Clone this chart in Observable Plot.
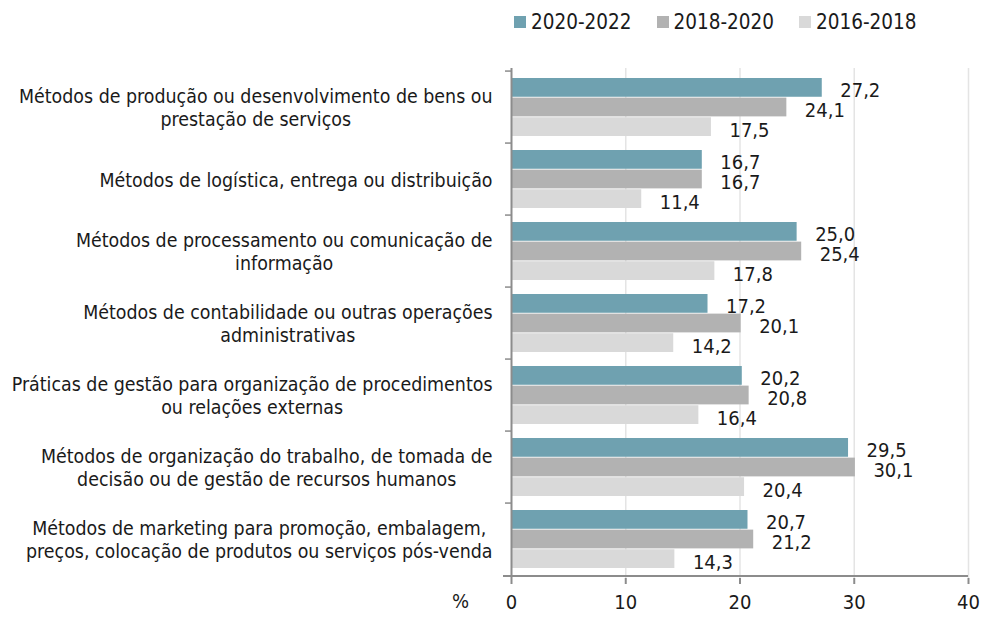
<!DOCTYPE html>
<html><head><meta charset="utf-8">
<script src="https://cdn.jsdelivr.net/npm/d3@7"></script>
<script src="https://cdn.jsdelivr.net/npm/@observablehq/plot@0.6"></script>
<style>
body{margin:0;background:#fff;font-family:"DejaVu Sans Condensed","DejaVu Sans",sans-serif;font-stretch:condensed;color:#1a1a1a}
#legend{height:44px;display:flex;align-items:center;padding-left:514px;gap:25px;font-size:20.5px}
.item{display:flex;align-items:center;gap:5px}
.sw{width:12px;height:12px;display:inline-block}
</style></head><body>
<div id="legend"></div><div id="chart"></div>
<script>
const categories = [
  "Métodos de produção ou desenvolvimento de bens ou\nprestação de serviços",
  "Métodos de logística, entrega ou distribuição",
  "Métodos de processamento ou comunicação de\ninformação",
  "Métodos de contabilidade ou outras operações\nadministrativas",
  "Práticas de gestão para organização de procedimentos\nou relações externas",
  "Métodos de organização do trabalho, de tomada de\ndecisão ou de gestão de recursos humanos",
  "Métodos de marketing para promoção, embalagem,\npreços, colocação de produtos ou serviços pós-venda"
];
const series = ["2020-2022", "2018-2020", "2016-2018"];
const v2020_2022 = [27.2, 16.7, 25.0, 17.2, 20.2, 29.5, 20.7];
const v2018_2020 = [24.1, 16.7, 25.4, 20.1, 20.8, 30.1, 21.2];
const v2016_2018 = [17.5, 11.4, 17.8, 14.2, 16.4, 20.4, 14.3];
const colors = ["#6fa1b0", "#b2b2b2", "#d9d9d9"];
const xTicks = [0, 10, 20, 30, 40];
const xLabel = "%";

const values = [v2020_2022, v2018_2020, v2016_2018];
const rows = series.flatMap((s, k) => categories.map((c, i) => ({cat: c, series: s, k, value: values[k][i]})));
const fmt = v => v.toFixed(1).replace(".", ",");

// legend
const legend = document.getElementById("legend");
series.forEach((s, k) => {
  const it = document.createElement("div");
  it.className = "item";
  const sw = document.createElement("span");
  sw.className = "sw"; sw.style.background = colors[k];
  const tx = document.createElement("span");
  tx.textContent = s;
  it.appendChild(sw); it.appendChild(tx);
  legend.appendChild(it);
});

const W = 984, H = 573, mt = 24, mb = 39, ml = 511, mr = 16;
const step = (H - mt - mb) / categories.length;
const pad = 7;
const barH = (step - 2 * pad) / 3;
const axisColor = "#8c8c8c";
const textColor = "#1a1a1a";
const font = "'DejaVu Sans Condensed','DejaVu Sans',sans-serif";

const chart = Plot.plot({
  width: W, height: H,
  marginTop: mt, marginBottom: mb, marginLeft: ml, marginRight: mr,
  style: {fontFamily: font, fontSize: "20px", color: textColor, background: "#fff", fontStretch: "condensed"},
  x: {domain: [0, 40], axis: null},
  y: {domain: categories, padding: 0, axis: null},
  marks: [
    Plot.ruleX(xTicks.slice(1), {stroke: "#e4e4e4", strokeWidth: 1.5}),
    ...series.map((s, k) => Plot.barX(rows.filter(d => d.k === k), {
      x: "value", y: "cat", fill: colors[k],
      insetTop: pad + k * barH, insetBottom: pad + (2 - k) * barH
    })),
    ...series.map((s, k) => Plot.text(rows.filter(d => d.k === k), {
      x: "value", y: "cat", text: d => fmt(d.value),
      textAnchor: "start", dx: 18, dy: (k - 1) * barH + 3,
      fontSize: 20, fill: textColor
    })),
    Plot.ruleX([0], {stroke: axisColor, strokeWidth: 2}),
    Plot.ruleY(categories, {dy: -step / 2, insetLeft: -6, insetRight: W - ml - mr, stroke: axisColor, strokeWidth: 1.5}),
    Plot.ruleY([categories[categories.length - 1]], {dy: step / 2, insetLeft: -8, stroke: axisColor, strokeWidth: 2}),
    Plot.axisX(xTicks, {tickSize: 6, tickPadding: 10, stroke: axisColor, strokeWidth: 2, fill: textColor, fontSize: 20, label: null}),
    Plot.axisY({tickSize: 0, tickPadding: 19, fontSize: 19.4, lineHeight: 1.19, label: null, fill: textColor, tickFormat: d => d}),
    Plot.text([xLabel], {frameAnchor: "bottom-left", dx: -51, dy: 29, fontSize: 20, fill: textColor, textAnchor: "middle"})
  ]
});
document.getElementById("chart").appendChild(chart);

// center each line within its right-aligned label block (as in the original)
chart.querySelectorAll('g[aria-label="y-axis tick label"] text').forEach(t => {
  const spans = t.querySelectorAll("tspan");
  if (spans.length < 2) return;
  const w = Math.max(...Array.from(spans, s => s.getComputedTextLength()));
  t.setAttribute("text-anchor", "middle");
  spans.forEach(s => {
    const base = parseFloat(s.getAttribute("x") || t.getAttribute("x") || 0);
    s.setAttribute("x", base - w / 2);
  });
});
</script>
</body></html>
